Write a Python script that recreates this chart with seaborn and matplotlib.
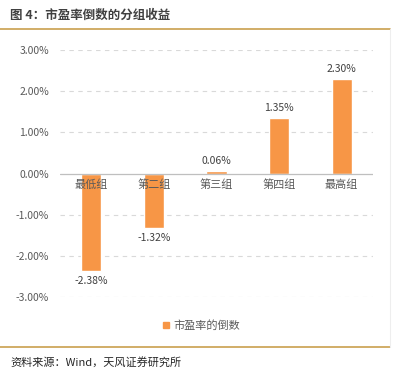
import matplotlib
matplotlib.use('Agg')
import matplotlib.pyplot as plt
import matplotlib.transforms as mtransforms
from matplotlib.lines import Line2D
import seaborn as sns
import pandas as pd

# data
groups = ['最低组', '第二组', '第三组', '第四组', '最高组']
returns = [-2.38, -1.32, 0.06, 1.35, 2.30]
series_name = '市盈率的倒数'
y_ticks = [3, 2, 1, 0, -1, -2, -3]

title = '图 4：市盈率倒数的分组收益'
source = '资料来源：Wind，天风证券研究所'

sns.set_theme(style='white')
plt.rcParams['font.family'] = ['Noto Sans CJK SC', 'DejaVu Sans']

bar_color = '#F79646'
gold = '#C9A04E'
text_gray = '#595959'

df = pd.DataFrame({'group': groups, 'ret': returns})

fig = plt.figure(figsize=(4, 3.72), dpi=100)
ax = fig.add_axes([0.15, 0.2016, 0.7825, 0.664])

sns.barplot(data=df, x='group', y='ret', color=bar_color, width=0.32,
            saturation=1, ax=ax)

ax.set_ylim(-3, 3)
ax.set_xlim(-0.5, len(groups) - 0.5)
ax.set_yticks(y_ticks)
ax.set_yticklabels([f'{v:.2f}%' for v in y_ticks], fontsize=7.5, color=text_gray)
ax.tick_params(axis='y', length=0, pad=8)
ax.set_xticks([])
ax.set_xlabel('')
ax.set_ylabel('')
for s in ax.spines.values():
    s.set_visible(False)

# gridlines
for v in y_ticks:
    if v == 0:
        ax.axhline(0, color='#BFBFBF', lw=0.9, zorder=3)
    else:
        ax.axhline(v, color='#D9D9D9', lw=0.8, ls=(0, (4, 4)), zorder=0)

# category labels just below the zero line
for i, g in enumerate(groups):
    ax.text(i, -0.15, g, ha='center', va='top', fontsize=8, color=text_gray, zorder=4)

# value labels
for i, v in enumerate(returns):
    if v >= 0:
        ax.text(i, v + 0.12, f'{v:.2f}%', ha='center', va='bottom', fontsize=7.5, color='#404040')
    else:
        ax.text(i, v - 0.12, f'{v:.2f}%', ha='center', va='top', fontsize=7.5, color='#404040')

# legend
handle = Line2D([], [], marker='s', color='none', markerfacecolor=bar_color,
                markeredgecolor=bar_color, markersize=5)
fig.legend([handle], [series_name], loc='center', bbox_to_anchor=(0.5, 0.126),
           frameon=False, fontsize=8, handletextpad=0.2, handlelength=1,
           labelcolor=text_gray)

# title, rules and source
fig.text(0.025, 0.958, title, fontsize=9, fontweight='bold', color='#404040',
         ha='left', va='center')
fig.add_artist(Line2D([0, 0.975], [0.922, 0.922], color=gold, lw=1.2,
                      transform=fig.transFigure))
fig.add_artist(Line2D([0, 0.975], [0.067, 0.067], color=gold, lw=1.2,
                      transform=fig.transFigure))
fig.add_artist(Line2D([0.975, 0.975], [0.067, 0.922], color='#EEEEEE', lw=0.8,
                      transform=fig.transFigure))
fig.text(0.025, 0.027, source, fontsize=8, color='#262626', ha='left', va='center')

fig.savefig('out.png', dpi=100)
